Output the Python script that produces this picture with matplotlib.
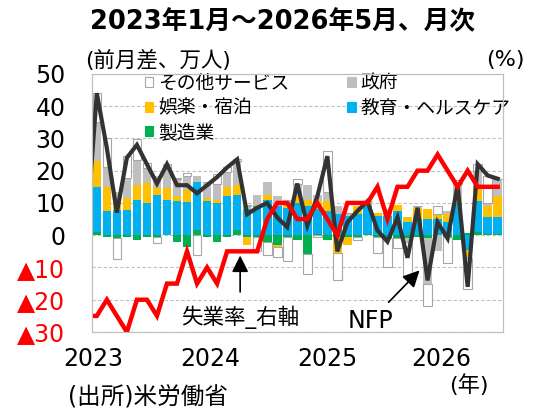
import numpy as np
import matplotlib
matplotlib.use('Agg')
import matplotlib.pyplot as plt
from matplotlib.patches import Patch
from matplotlib.ticker import FuncFormatter

plt.rcParams['font.family'] = ['DejaVu Sans', 'Noto Sans CJK JP']

# 2023年1月～2026年5月 (41か月), 前月差・万人
manufacturing = [1, -0.5, -1, -0.5, -1.4, -0.5, -0.5, 0, -2, -3.6,
                 1.5, -0.5, -2, -0.5, 1.5, -0.5, -0.5, -2, -3, -0.5,
                 -1.5, -5.7, 0.5, -1.5, -0.5, -0.5, -0.5, 0.5, -0.5, -1,
                 -1, -1, -0.5, -1, 0, -0.5, -1.5, 0.8, 1, 0.5, 0.5]
health = [14, 7.5, 7.8, 7.8, 10.9, 9.9, 12.5, 11, 10.5, 10.4,
          15, 10.5, 10, 12, 11, 8, 9, 11, 9, 8.5,
          10, 9, 7.5, 7.5, 6.5, 6, 6.5, 8.5, 6, 6,
          7.5, 4, 5, 5, 5, 4, 10, -4.5, 9.5, 5, 5]
leisure = [8, 7.5, 2.6, 3.6, 4.7, 6.2, 2, 3.5, 1.5, 3.6,
           0, 1, 1, 3, 3, -2.5, 0.5, 1.5, -0.7, 0.5,
           2, 2, 2.5, 3, -5, -2.5, 2.5, 1, 1, 1.5,
           2, 1.5, 3.5, 3, 1.5, 2.5, 1, -2, 4, 3.5, 6.5]
government = [12, 6, 3.1, 6.2, 7.8, 4.7, 4, 6, 5.5, 4.2,
              2, 5, 5, 4.7, 7.5, 1, 3, 4, 3, 2,
              4, 4.6, 2, 3, 2.5, 1, 0, 0.5, 0, 0.5,
              0, -1, 0.5, -14, -5, 1, 5, -0.5, 5.5, 1, 5.5]
other = [9, 9, -6.3, 6.8, 6.3, 1.5, -2, 1.5, 0.3, 1.1,
         -6, 0, 3, 1.5, 0.5, 0.5, -4.5, -4, -3, -7.5,
         1.5, -6.3, -0.5, 12.5, -8.5, 0, -1, 0, -5, -9,
         -3, -10.5, 0, -7, 2.5, -8, 1, -9.8, 2, 8.5, 0]
nfp = [44, 27, 7, 24, 28, 22, 16, 22, 15.5, 15.5,
       13, 15.5, 18, 21, 23.5, 6.5, 8.5, 10, 5.5, 2.5,
       16, 3, 12, 24.5, -5, 4, 7.5, 10.5, 1.5, -2,
       5.5, -7, 8.5, -14, 4, -1, 15.5, -16, 22, 18.5, 17.5]
nfp_prev = 2  # 2022年12月
# 失業率 (%), 右軸
unemp = [3.5, 3.6, 3.5, 3.4, 3.6, 3.6, 3.5, 3.7, 3.7, 3.9,
         3.7, 3.8, 3.7, 3.9, 3.9, 3.9, 3.9, 4.1, 4.2, 4.2,
         4.1, 4.1, 4.2, 4.1, 4.0, 4.2, 4.2, 4.2, 4.3, 4.1,
         4.3, 4.3, 4.4, 4.4, 4.5, 4.4, 4.3, 4.4, 4.3, 4.3, 4.3]
unemp_prev = 3.5
year_labels = ['2023', '2024', '2025', '2026']

months = np.arange(len(nfp))

fig = plt.figure(figsize=(5.4, 4.15), dpi=100)
ax = fig.add_axes([0.170, 0.200, 0.761, 0.622])

series = [
    (manufacturing, '製造業', '#00b050', 'none'),
    (health, '教育・ヘルスケア', '#00b0f0', 'none'),
    (leisure, '娯楽・宿泊', '#ffc000', 'none'),
    (government, '政府', '#bfbfbf', 'none'),
    (other, 'その他サービス', 'white', '#a6a6a6'),
]

pos = np.zeros(len(months))
neg = np.zeros(len(months))
for vals, name, col, edge in series:
    v = np.array(vals, dtype=float)
    bottom = np.where(v >= 0, pos, neg)
    ax.bar(months, v, bottom=bottom, width=0.86, color=col,
           edgecolor=edge, linewidth=0.8, zorder=2)
    pos += np.clip(v, 0, None)
    neg += np.clip(v, None, 0)

x_line = np.concatenate([[-1], months])
ax.plot(x_line, [nfp_prev] + nfp, color='#333333', lw=3, zorder=3,
        solid_joinstyle='miter')

ax.set_xlim(-0.5, 40.5)
ax.set_ylim(-30, 50)
ax.set_yticks(range(-30, 51, 10))
ax.yaxis.set_major_formatter(FuncFormatter(
    lambda v, p: f'▲{abs(int(v))}' if v < 0 else f'{int(v)}'))
ax.tick_params(axis='y', length=0, pad=19, labelsize=17)
for lab in ax.get_yticklabels():
    if lab.get_text().startswith('▲'):
        lab.set_color('#ff0000')
ax.set_xticks([-0.4, 11.3, 23.0, 34.4])
ax.set_xticklabels(year_labels)
ax.tick_params(axis='x', length=0, pad=11, labelsize=17)
ax.yaxis.grid(True, linestyle=(0, (3, 2)), color='#bfbfbf', lw=0.8)
ax.set_axisbelow(True)
for s in ax.spines.values():
    s.set_color('#bfbfbf')

ax2 = ax.twinx()
ax2.plot(x_line, [unemp_prev] + unemp, color='#ff0000', lw=3.2,
         solid_joinstyle='miter')
ax2.set_ylim(3.4, 5.0)
ax2.set_yticks([])
for s in ax2.spines.values():
    s.set_color('#bfbfbf')

order = [4, 2, 0, 3, 1]
handles = [Patch(facecolor=series[k][2], edgecolor=(series[k][3] if series[k][3] != 'none' else series[k][2]),
                 linewidth=0.8) for k in order]
labels = [series[k][1] for k in order]
ax.legend(handles, labels, ncol=2, loc='upper left', bbox_to_anchor=(0.129, 1.0),
          frameon=False, fontsize=13.5, handlelength=0.45, handleheight=0.45,
          handletextpad=0.25, columnspacing=3.1, labelspacing=0.3, borderpad=0,
          borderaxespad=0)

ax2.annotate('失業率_右軸', xy=(14.3, -6.3), xytext=(14.3, -25.5),
             ha='center', va='center', fontsize=15.5,
             arrowprops=dict(arrowstyle='-|>,head_length=0.5,head_width=0.25',
                             mutation_scale=20, color='black', lw=1.2,
                             shrinkA=8, shrinkB=0),
             xycoords=ax.transData, textcoords=ax.transData)
ax2.annotate('NFP', xy=(32.2, -10.9), xytext=(27.3, -26.6),
             ha='center', va='center', fontsize=17,
             arrowprops=dict(arrowstyle='-|>,head_length=0.5,head_width=0.25',
                             mutation_scale=20, color='black', lw=1.2,
                             shrinkA=4, shrinkB=0),
             xycoords=ax.transData, textcoords=ax.transData)

fig.text(0.523, 0.947, '2023年1月～2026年5月、月次', ha='center', va='center',
         fontsize=18.5, fontweight='bold')
fig.text(0.157, 0.855, '(前月差、万人)', ha='left', va='center', fontsize=15.5)
fig.text(0.972, 0.855, '(%)', ha='right', va='center', fontsize=16)
fig.text(0.126, 0.041, '(出所)米労働省', ha='left', va='center', fontsize=17)
fig.text(0.869, 0.072, '(年)', ha='center', va='center', fontsize=16)

fig.savefig('out.png', dpi=100)
